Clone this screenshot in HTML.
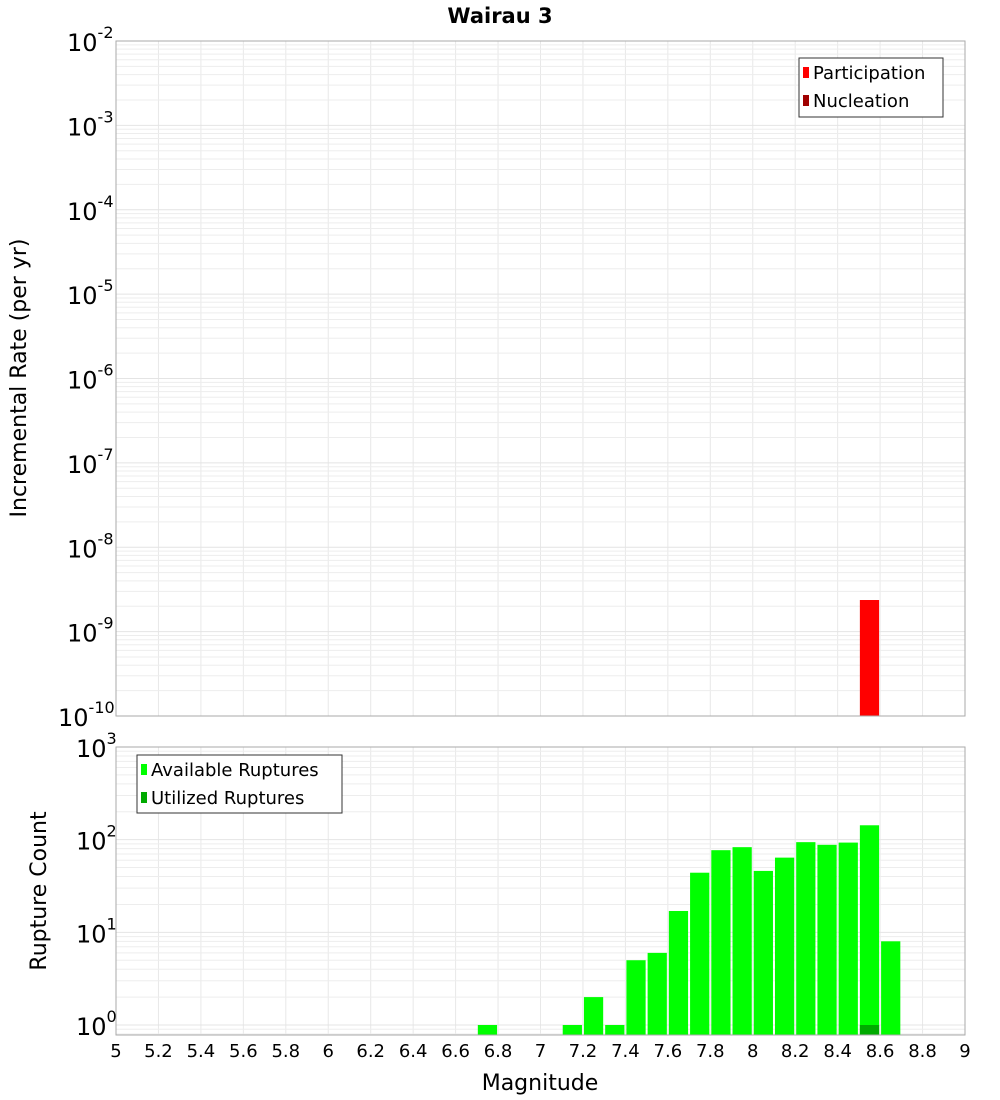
<!DOCTYPE html>
<html><head><meta charset="utf-8"><style>
body{margin:0;background:#fff}
svg{display:block;font-family:"DejaVu Sans","Liberation Sans",sans-serif}
</style></head><body>
<svg id="chart" width="1000" height="1100" xmlns="http://www.w3.org/2000/svg">
<text x="500" y="23" text-anchor="middle" font-size="21" font-weight="bold">Wairau 3</text>
<text transform="translate(26,378) rotate(-90)" text-anchor="middle" font-size="22">Incremental Rate (per yr)</text>
<text transform="translate(46,891) rotate(-90)" text-anchor="middle" font-size="22">Rupture Count</text>
<text x="540" y="1090" text-anchor="middle" font-size="22">Magnitude</text>
<g id="topPlot"></g>
<g id="botPlot"></g>
</svg>
<script>
const xTicks = ["5","5.2","5.4","5.6","5.8","6","6.2","6.4","6.6","6.8","7","7.2","7.4","7.6","7.8","8","8.2","8.4","8.6","8.8","9"];
const rateMags = [8.55];
const participationRates = [2.37e-9];
const nucleationRates = [0];
const countMags = [6.75,7.15,7.25,7.35,7.45,7.55,7.65,7.75,7.85,7.95,8.05,8.15,8.25,8.35,8.45,8.55,8.65];
const availableCounts = [1,1,2,1,5,6,17,44,77,83,46,64,94,88,93,143,8];
const utilizedCounts = [0,0,0,0,0,0,0,0,0,0,0,0,0,0,0,1,0];
const topDecades = [-10,-9,-8,-7,-6,-5,-4,-3,-2];
const botDecades = [0,1,2,3];

const NS="http://www.w3.org/2000/svg";
const X0=116,X1=965;
const xScale=m=>X0+(m-5)/(9-5)*(X1-X0);
const T0=41,T1=716;
const yTop=v=>T1-(Math.log10(v)+10)/8*(T1-T0);
const B0=747,B1=1035,BZ=1025;
const yBot=v=>BZ-Math.log10(v)/3*(BZ-B0);
function mk(p,tag,a){const e=document.createElementNS(NS,tag);for(const k in a)e.setAttribute(k,a[k]);p.appendChild(e);return e;}

function grid(g,y0,y1,decs,yf,minV){
  mk(g,'rect',{x:X0,y:y0,width:X1-X0,height:y1-y0,fill:'#fff'});
  xTicks.forEach(t=>{const x=xScale(+t);const l=mk(g,'line',{x1:x,x2:x,y1:y0,y2:y1,stroke:'#e8e8e8','stroke-width':1});
    
    });
  decs.forEach(d=>{for(let k=1;k<10;k++){const v=k*Math.pow(10,d);if(v<minV)continue;const y=yf(v);if(y<y0-0.5||y>y1+0.5)continue;
    const l=mk(g,'line',{x1:X0,x2:X1,y1:y,y2:y,stroke:k==1?'#e4e4e4':'#ededed','stroke-width':1});
    
    }});
}
function yLabels(g,decs,yf){
  decs.forEach(d=>{const y=yf(Math.pow(10,d));const t=mk(g,'text',{x:113,y:y+10,'font-size':24});
    
    
    t.textContent='10';const s=document.createElementNS(NS,'tspan');s.setAttribute('dy','-13');s.setAttribute('font-size','16');s.textContent=String(d);t.appendChild(s);
    t.setAttribute('x',String(113-28-9*String(d).length));});
}
const topG=document.getElementById('topPlot'),botG=document.getElementById('botPlot');
grid(topG,T0,T1,topDecades,yTop,1e-10);
grid(botG,B0,B1,[-1,0,1,2],yBot,0.1);
rateMags.forEach((m,i)=>{
  const x=xScale(m-0.05)+1,w=xScale(m+0.05)-xScale(m-0.05)-2;
  const y=yTop(participationRates[i]);
  const r=mk(topG,'rect',{x:x,y:y,width:w,height:T1-y,fill:'#ff0000'});
  
  
  if(nucleationRates[i]>0){const yn=yTop(nucleationRates[i]);const n=mk(topG,'rect',{x:x,y:yn,width:w,height:T1-yn,fill:'#a00000'});
    
    }
});
countMags.forEach((m,i)=>{
  const x=xScale(m-0.05)+1,w=xScale(m+0.05)-xScale(m-0.05)-2;
  const y=yBot(availableCounts[i]);
  const r=mk(botG,'rect',{x:x,y:y,width:w,height:B1-y,fill:'#00ff00'});
  
  
  if(utilizedCounts[i]>0){const yu=yBot(utilizedCounts[i]);const u=mk(botG,'rect',{x:x,y:yu,width:w,height:B1-yu,fill:'#00aa00'});
    
    }
});
[[topG,T0,T1],[botG,B0,B1]].forEach(([g,a,b])=>{const f=mk(g,'rect',{x:X0,y:a,width:X1-X0,height:b-a,fill:'none',stroke:'#aaaaaa','stroke-width':1});
  
  });
yLabels(topG,topDecades,yTop);
yLabels(botG,botDecades,yBot);
xTicks.forEach(t=>{const e=mk(botG,'text',{x:xScale(+t),y:1057,'text-anchor':'middle','font-size':18});
  
  
  e.textContent=t;});
function legend(g,x,y,w,h,items,name){
  const lg=mk(g,'g',{});
  
  
  mk(lg,'rect',{x:x,y:y,width:w,height:h,fill:'#fff',stroke:'#333','stroke-width':1});
  items.forEach((it,i)=>{const yy=y+15+i*28;
    mk(lg,'rect',{x:x+4,y:yy-6,width:6,height:11,fill:it[1]});
    const t=mk(lg,'text',{x:x+14,y:yy+6,'font-size':18});
    
    
    t.textContent=it[0];});
}
legend(topG,799,58,144,59,[['Participation','#ff0000'],['Nucleation','#a00000']],'rate-legend');
legend(botG,137,755,205,58,[['Available Ruptures','#00ff00'],['Utilized Ruptures','#00aa00']],'count-legend');
</script>
</body></html>
